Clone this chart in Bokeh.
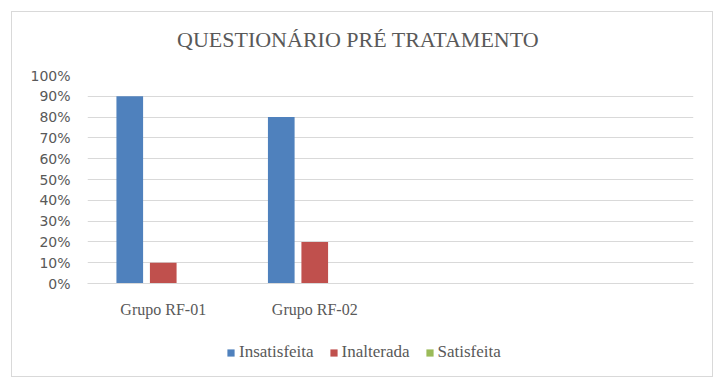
from bokeh.plotting import figure
from bokeh.layouts import column
from bokeh.models import ColumnDataSource, NumeralTickFormatter, FixedTicker, Legend, LegendItem, Div
from bokeh.transform import dodge
from bokeh.embed import file_html
from bokeh.resources import INLINE

# ---- data ----
title_text = "QUESTIONÁRIO PRÉ TRATAMENTO"
categories = ["Grupo RF-01", "Grupo RF-02", "", ""]
series_names = ["Insatisfeita", "Inalterada", "Satisfeita"]
insatisfeita = [0.90, 0.80]
inalterada = [0.10, 0.20]
satisfeita = [0.0, 0.0]
colors = ["#4F81BD", "#C0504D", "#9BBB59"]
y_ticks = [0.0, 0.1, 0.2, 0.3, 0.4, 0.5, 0.6, 0.7, 0.8, 0.9, 1.0]

n = len(insatisfeita)
pos = [i + 0.5 for i in range(n)]
src = ColumnDataSource(dict(x=pos, ins=insatisfeita, ina=inalterada, sat=satisfeita))

# title strip
title_div = Div(
    text=('<div style="padding-top:17px;padding-left:165px;font-family:\'Liberation Serif\';'
          'font-size:22px;line-height:22px;color:#595959;white-space:nowrap;">'
          + title_text + '</div>'),
    width=700, height=50, margin=0)

p = figure(width=700, height=270, output_backend="svg", toolbar_location=None,
           x_range=(0, len(categories)), y_range=(0, 1.0),
           min_border_left=75, min_border_right=19, min_border_top=13, min_border_bottom=49)

offsets = [-0.221, 0.0, 0.221]
fields = ["ins", "ina", "sat"]
for f, off, c in zip(fields, offsets, colors):
    p.vbar(x=dodge("x", off, range=p.x_range), top=f, width=0.176, source=src,
           fill_color=c, line_color=None)

p.outline_line_color = None
p.background_fill_color = "white"
p.border_fill_color = "white"

p.xgrid.grid_line_color = None
p.ygrid.grid_line_color = "#D9D9D9"
p.ygrid.ticker = FixedTicker(ticks=y_ticks)

p.yaxis.ticker = FixedTicker(ticks=y_ticks)
p.yaxis.formatter = NumeralTickFormatter(format="0%")
p.yaxis.axis_line_color = None
p.yaxis.major_tick_line_color = None
p.yaxis.minor_tick_line_color = None
p.yaxis.major_label_text_font = "DejaVu Sans"
p.yaxis.major_label_text_font_size = "14px"
p.yaxis.major_label_text_color = "#595959"
p.yaxis.major_label_standoff = 11

p.xaxis.ticker = FixedTicker(ticks=[i + 0.5 for i in range(len(categories))])
p.xaxis.major_label_overrides = {i + 0.5: c for i, c in enumerate(categories)}
p.xaxis.axis_line_color = "#D9D9D9"
p.xaxis.major_tick_line_color = None
p.xaxis.minor_tick_line_color = None
p.xaxis.major_label_text_font = "Liberation Serif"
p.xaxis.major_label_text_font_size = "16px"
p.xaxis.major_label_text_color = "#595959"
p.xaxis.major_label_standoff = 11

# legend strip below the chart (swatch renderers are zero-height, invisible bars)
lf = figure(width=700, height=44, output_backend="svg", toolbar_location=None,
            x_range=(0, 1), y_range=(0, 1), x_axis_type=None, y_axis_type=None,
            min_border_left=0, min_border_right=0, min_border_top=0, min_border_bottom=0)
lf.outline_line_color = None
lf.background_fill_color = "white"
lf.border_fill_color = "white"
items = []
for c, name in zip(colors, series_names):
    r = lf.vbar(x=[0.5], top=[0.0], bottom=[0.0], width=0.0, fill_color=c, line_color=None)
    items.append(LegendItem(label=name, renderers=[r]))
leg = Legend(items=items, orientation="horizontal", location=(139, 14),
             border_line_color=None, background_fill_alpha=0,
             label_text_font="Liberation Serif", label_text_font_size="17px",
             label_text_color="#595959", glyph_width=9, glyph_height=9,
             label_standoff=4, spacing=15, margin=0, padding=0)
lf.add_layout(leg)

layout = column(title_div, p, lf, spacing=0,
                styles={"border": "1px solid #D9D9D9", "margin-left": "11px", "margin-top": "11px"})

open("out.html", "w").write(file_html(layout, INLINE))
